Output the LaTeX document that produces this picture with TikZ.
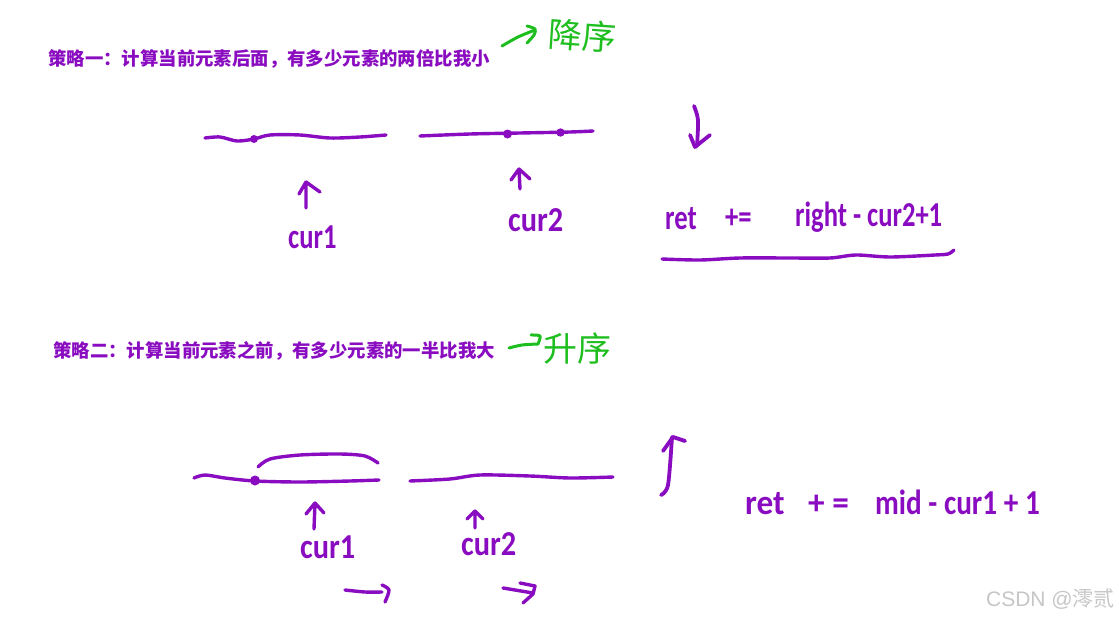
\documentclass[tikz,border=0pt]{standalone}
\usepackage{fontspec}
\setmainfont{Carlito}
\newfontfamily\cjk{Noto Sans CJK SC}
\newfontfamily\markfont{Liberation Sans}
\definecolor{inkpurple}{HTML}{8A0CC0}
\definecolor{inkgreen}{HTML}{1EBE1E}
\tikzset{
    ink/.style={inkpurple,line width=3.4pt,line cap=round,line join=round},
    inkgr/.style={inkgreen,line width=3pt,line cap=round,line join=round},
    title/.style={inkpurple,anchor=west,inner sep=0pt,font=\cjk\bfseries\fontsize{18.4}{20}\selectfont},
    hand/.style={inkpurple,inner sep=0pt,anchor=base west,xscale=0.76,font=\bfseries\fontsize{35}{36}\selectfont},
    handgr/.style={inkgreen,inner sep=0pt,font=\cjk\fontsize{34}{36}\selectfont},
}
\begin{document}
\begin{tikzpicture}[x=1pt,y=-1pt]
        \useasboundingbox (0,0) rectangle (1119,618);
        % strategy one
        \node[title] (one) at (48,59) {策略一：计算当前元素后面，有多少元素的两倍比我小};
        \draw[inkgr] plot[smooth] coordinates {(502,46) (518,37) (535,30)};
        \draw[inkgr] plot[smooth] coordinates {(527,26) (535,29) (534,35) (527,43)};
        \node[handgr,rotate=-4] (desc) at (582,36) {降序};
        \draw[ink] plot[smooth] coordinates {(205,138) (220,137) (237,141) (254,139) (270,135) (300,135) (330,138) (360,137) (386,135)};
        \fill[inkpurple] (254,139) circle (4pt);
        \draw[ink] plot[smooth] coordinates {(420,136) (470,134) (520,133) (570,132) (593,131)};
        \fill[inkpurple] (507.5,134) circle (4.5pt) (560.5,132.5) circle (4.2pt);
        \draw[ink] (306,208)--(306,182)--(299,194) (306,182)--(320,192);
        \draw[ink] (520,189)--(519,169)--(511,180) (519,169)--(530,179);
        \node[hand] (cura) at (288,248) {cur1};
        \node[hand,xscale=1.14] (curb) at (508,231) {cur2};
        \draw[ink,line width=3.8pt] plot[smooth] coordinates {(694,106) (698,120) (697,146)};
        \draw[ink,line width=3.8pt] (690,135)--(695,147)--(710,135);
        \node[hand] (reta) at (665,229) {ret};
        \node[hand] (retb) at (725,228) {+=};
        \node[hand] (retc) at (795,226) {right - cur2+1};
        \draw[ink] plot[smooth] coordinates {(662,259) (700,260) (740,258) (790,258) (830,258) (856,255) (890,257) (935,255) (948,254) (954,250)};
        % strategy two
        \node[title] (two) at (53,351) {策略二：计算当前元素之前，有多少元素的一半比我大};
        \draw[inkgr] plot[smooth] coordinates {(509,348) (522,345) (538,344)};
        \draw[inkgr] plot[smooth] coordinates {(531,335) (540,336) (538,344)};
        \node[handgr] (asc) at (577,349) {升序};
        \draw[ink] plot[smooth] coordinates {(194,478) (205,475) (225,478) (255,481) (300,482) (350,481) (379,480)};
        \fill[inkpurple] (255,480.5) circle (5pt);
        \draw[ink] plot[smooth] coordinates {(258,467) (270,459) (300,455) (340,454) (365,456) (378,463)};
        \draw[ink] plot[smooth] coordinates {(410,481) (450,479) (480,475) (530,476) (570,478) (613,477)};
        \draw[ink] (314,529)--(315,503)--(306,514) (315,503)--(324,513);
        \draw[ink] (475,528)--(475,511)--(467,519) (475,511)--(483,519);
        \node[hand,xscale=1.14] (curc) at (300,558) {cur1};
        \node[hand,xscale=1.14] (curd) at (461,555) {cur2};
        \draw[ink] plot[smooth] coordinates {(345,590) (365,592) (382,592)};
        \draw[ink] plot[smooth] coordinates {(382,585) (389,590) (385,602)};
        \draw[ink] (503,588)--(533,593) (520,583)--(535,586)--(533,594)--(523,603);
        \draw[ink,line width=3.8pt] plot[smooth] coordinates {(661,495) (668,485) (672,437)};
        \draw[ink,line width=3.8pt] (663,451)--(673,437)--(685,441);
        \node[hand,xscale=1.25] (retd) at (745,514) {ret};
        \node[hand,xscale=1.25] (rete) at (808,514) {+ =};
        \node[hand,xscale=1.1] (retf) at (875,514) {mid - cur1 + 1};
        \node[gray!45,anchor=base east,inner sep=0pt,font=\markfont\fontsize{21}{24}\selectfont] (mark) at (1115,606) {CSDN @{\cjk 澪贰}};
\end{tikzpicture}
\end{document}
